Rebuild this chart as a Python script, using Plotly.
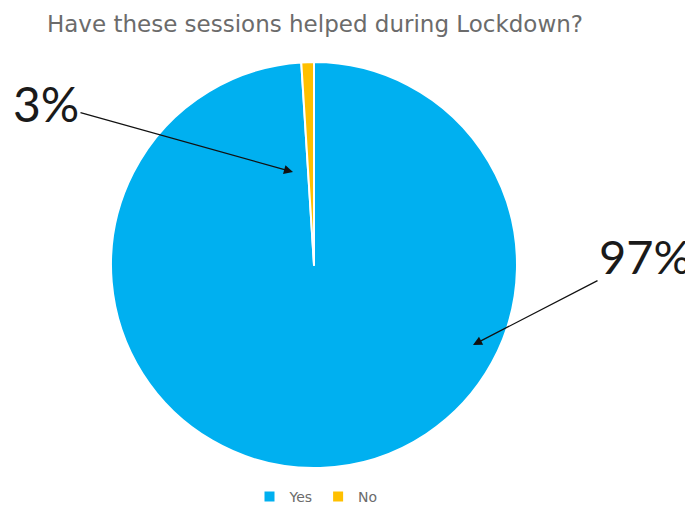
import plotly.graph_objects as go

# Data (slice proportions as drawn; label texts as printed on the chart)
categories = ["Yes", "No"]
values = [99, 1]
colors = ["#00B0F0", "#FFC000"]
label_texts = ["97%", "3%"]
title_text = "Have these sessions helped during Lockdown?"

# The page body adds an 8px offset; the figure is sized to fit the window.
OFF = 8
W, H = 693 - OFF, 508 - OFF
cx, cy, R = 314 - OFF, 265 - OFF, 203
ml = 0
pw = 2 * (cx - ml)
mr = W - ml - pw
mt = cy - R
ph = 2 * R
mb = H - mt - ph

def px_to_paper(x, y):
    x -= OFF
    y -= OFF
    return (x - ml) / pw, (H - mb - y) / ph

fig = go.Figure()
fig.add_trace(go.Pie(
    labels=categories,
    values=values,
    sort=False,
    direction="clockwise",
    rotation=0,
    textinfo="none",
    hoverinfo="label+percent",
    marker=dict(colors=colors, line=dict(color="white", width=2)),
))

# 3% annotation: arrow head near the No slice
hx, hy = px_to_paper(293, 172)
fig.add_annotation(x=hx, y=hy, xref="paper", yref="paper",
                   text=label_texts[1], showarrow=True,
                   ax=46 - 293, ay=103 - 172,
                   arrowhead=2, arrowsize=1.4, arrowwidth=1.3, arrowcolor="#111",
                   font=dict(family="Lato", size=48, color="#1a1a1a"))
# 97% annotation
hx, hy = px_to_paper(473, 345)
fig.add_annotation(x=hx, y=hy, xref="paper", yref="paper",
                   text=label_texts[0], showarrow=True,
                   ax=645 - 473, ay=256 - 345,
                   arrowhead=2, arrowsize=1.4, arrowwidth=1.3, arrowcolor="#111",
                   font=dict(family="Lato", size=47, color="#1a1a1a"))

lx = (316 - OFF - ml) / pw
fig.update_layout(
    width=W, height=H,
    margin=dict(l=ml, r=mr, t=mt, b=mb),
    paper_bgcolor="white",
    plot_bgcolor="white",
    title=dict(text=title_text, x=(315 - OFF) / W, xanchor="center",
               y=1 - (24 - OFF) / H, yanchor="middle",
               font=dict(family="DejaVu Sans", size=23, color="#6b6b6b")),
    legend=dict(orientation="h", x=lx, xanchor="center",
                yref="container", y=(H - (497 - OFF)) / H, yanchor="middle",
                font=dict(family="DejaVu Sans", size=14, color="#6b6b6b"),
                itemwidth=30),
    showlegend=True,
)

fig.write_html("out.html")
